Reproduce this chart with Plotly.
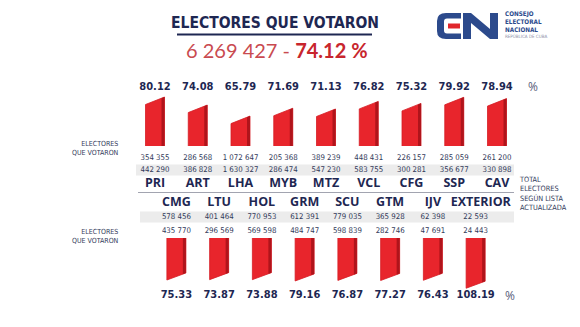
import plotly.graph_objects as go

# ---- data -------------------------------------------------------------
top_codes = ["PRI", "ART", "LHA", "MYB", "MTZ", "VCL", "CFG", "SSP", "CAV"]
top_pct = [80.12, 74.08, 65.79, 71.69, 71.13, 76.82, 75.32, 79.92, 78.94]
top_voted = [354355, 286568, 1072647, 205368, 389239, 448431, 226157, 285059, 261200]
top_total = [442290, 386828, 1630327, 286474, 547230, 583755, 300281, 356677, 330898]

bot_codes = ["CMG", "LTU", "HOL", "GRM", "SCU", "GTM", "IJV", "EXTERIOR"]
bot_pct = [75.33, 73.87, 73.88, 79.16, 76.87, 77.27, 76.43, 108.19]
bot_voted = [435770, 296569, 569598, 484747, 598839, 282746, 47691, 24443]
bot_total = [578456, 401464, 770953, 612391, 779035, 365928, 62398, 22593]

national_voted = 6269427
national_pct = 74.12

# ---- style ------------------------------------------------------------
W, H = 580, 327
NARROW = "DejaVu Sans Condensed, Liberation Sans Narrow, sans-serif"
SANS = "Open Sans, Liberation Sans, sans-serif"
NAVY = "#1e2752"
TEXT = "#333a5a"
RED = "#e8252c"
RED_DARK = "#b0141b"
BAND = "#ececec"

X0_PX, STEP_PX = 155, 42.75       # first column centre and column pitch (px)
HALF = 9.5 / STEP_PX              # bar half width, column units
STRIP = 3 / STEP_PX               # shaded right edge

TOP_BASE, TOP_SCALE, TOP_BASE_PX, TOP_CEIL_PX = 43.3, 1.33, 146, 75
BOT_BASE, BOT_SCALE, BOT_BASE_PX, BOT_FLOOR_PX = -92.7, 0.25, 238, 305
TOP_SLANT = 7.5 / TOP_SCALE
BOT_SLANT = 7 / BOT_SCALE


def fmt(n):
    return f"{n:,}".replace(",", " ")


def col_x(px):
    return (px - X0_PX) / STEP_PX


def col_px(c):
    return X0_PX + c * STEP_PX


def py(px):
    return 1 - px / H


fig = go.Figure()

# ---- top bars (upper provinces) --------------------------------------
for i, v in enumerate(top_pct):
    fig.add_trace(go.Scatter(
        x=[i - HALF, i - HALF, i + HALF, i + HALF],
        y=[TOP_BASE, v - TOP_SLANT, v, TOP_BASE],
        fill="toself", fillcolor=RED, mode="lines",
        line=dict(color="#d51d24", width=0.8),
        xaxis="x", yaxis="y", hoverinfo="skip", showlegend=False))
    fig.add_trace(go.Scatter(
        x=[i + HALF - STRIP, i + HALF - STRIP, i + HALF, i + HALF],
        y=[TOP_BASE, v - TOP_SLANT * STRIP / (2 * HALF), v, TOP_BASE],
        fill="toself", fillcolor=RED_DARK, mode="lines", line=dict(width=0),
        xaxis="x", yaxis="y", hoverinfo="skip", showlegend=False))

# ---- bottom bars (hanging) -------------------------------------------
bot_x = [i + 0.5 for i in range(len(bot_codes))]
for c, v in zip(bot_x, bot_pct):
    fig.add_trace(go.Scatter(
        x=[c - HALF, c - HALF, c + HALF, c + HALF],
        y=[BOT_BASE, v, v - BOT_SLANT, BOT_BASE],
        fill="toself", fillcolor=RED, mode="lines",
        line=dict(color="#d51d24", width=0.8),
        xaxis="x", yaxis="y2", hoverinfo="skip", showlegend=False))
    f = (2 * HALF - STRIP) / (2 * HALF)
    fig.add_trace(go.Scatter(
        x=[c + HALF - STRIP, c + HALF - STRIP, c + HALF, c + HALF],
        y=[BOT_BASE, v - BOT_SLANT * f, v - BOT_SLANT, BOT_BASE],
        fill="toself", fillcolor=RED_DARK, mode="lines", line=dict(width=0),
        xaxis="x", yaxis="y2", hoverinfo="skip", showlegend=False))


def text_row(xs, ypx, labels, family, size, color):
    fig.add_trace(go.Scatter(
        x=xs, y=[ypx] * len(xs), text=labels, mode="text",
        textposition="middle center",
        textfont=dict(family=family, size=size, color=color),
        xaxis="x", yaxis="y3", cliponaxis=False,
        hoverinfo="skip", showlegend=False))


top_x = list(range(len(top_codes)))
text_row(top_x, 87, [f"<b>{v:.2f}</b>" for v in top_pct], NARROW, 11, NAVY)
text_row(top_x, 158, [fmt(v) for v in top_voted], NARROW, 7.8, TEXT)
text_row(top_x, 170, [fmt(v) for v in top_total], NARROW, 7.8, TEXT)
text_row(top_x, 184, [f"<b>{c}</b>" for c in top_codes], SANS, 12.5, NAVY)

bot_label_x = bot_x[:-1] + [bot_x[-1] + 0.12]
text_row(bot_label_x, 203, [f"<b>{c}</b>" for c in bot_codes], SANS, 12.5, NAVY)
text_row(bot_x, 217, [fmt(v) for v in bot_total], NARROW, 7.8, TEXT)
text_row(bot_x, 231, [fmt(v) for v in bot_voted], NARROW, 7.8, TEXT)
text_row(bot_x, 295, [f"<b>{v:.2f}</b>" for v in bot_pct], NARROW, 11, NAVY)

# ---- shapes -----------------------------------------------------------
shapes = [
    dict(type="rect", xref="paper", yref="paper", x0=136 / W, x1=514 / W,
         y0=py(175.5), y1=py(164.5), fillcolor=BAND, line=dict(width=0), layer="below"),
    dict(type="rect", xref="paper", yref="paper", x0=140 / W, x1=514 / W,
         y0=py(222.5), y1=py(211.5), fillcolor=BAND, line=dict(width=0), layer="below"),
    dict(type="line", xref="paper", yref="paper", x0=138 / W, x1=514 / W,
         y0=py(192.5), y1=py(192.5), line=dict(color="#8a8d9c", width=0.8)),
    dict(type="line", xref="paper", yref="paper", x0=177 / W, x1=372 / W,
         y0=py(34.5), y1=py(34.5), line=dict(color=NAVY, width=2)),
]


def path(points):
    cmd = []
    for p in points:
        if isinstance(p, str):
            cmd.append(p)
        else:
            cmd.append(f"{p[0] / W:.5f},{py(p[1]):.5f}")
    return " ".join(cmd)


LOGO_BLUE = "#2c4a8c"
c_path = path(["M", (461, 13), "L", (446, 13), "Q", (437, 13), (437, 21), "L", (437, 31),
               "Q", (437, 39), (446, 39), "L", (461, 39), "L", (461, 33.5), "L", (447, 33.5),
               "Q", (444, 33.5), (444, 30.5), "L", (444, 21.5), "Q", (444, 18.5),
               (447, 18.5), "L", (461, 18.5), "Z"])
n_path = path(["M", (463, 39), "L", (463, 13), "L", (471, 13), "L", (490, 29), "L", (490, 13),
               "L", (498, 13), "L", (498, 39), "L", (490, 39), "L", (471, 23), "L", (471, 39), "Z"])
shapes += [
    dict(type="path", xref="paper", yref="paper", path=c_path,
         fillcolor=LOGO_BLUE, line=dict(width=0)),
    dict(type="path", xref="paper", yref="paper", path=n_path,
         fillcolor=LOGO_BLUE, line=dict(width=0)),
    dict(type="rect", xref="paper", yref="paper", x0=448 / W, x1=460 / W,
         y0=py(28.5), y1=py(23.5), fillcolor="#e0262c", line=dict(width=0)),
]

# ---- annotations ------------------------------------------------------
ann = []


def note(xpx, ypx, text, family, size, color, xanchor="center", align="center"):
    ann.append(dict(x=xpx / W, y=py(ypx), xref="paper", yref="paper", text=text,
                    showarrow=False, xanchor=xanchor, yanchor="middle", align=align,
                    font=dict(family=family, size=size, color=color)))


note(275, 23, "<b>ELECTORES QUE VOTARON</b>", NARROW, 15.5, NAVY)
note(277, 50, f"<span style='color:#c94a50'>{fmt(national_voted)} - </span>"
              f"<b><span style='color:#c8262d'>{national_pct:.2f} %</span></b>",
     "Lato, Open Sans, sans-serif", 20, "#c94a50")
note(121, 148, "ELECTORES<br>QUE VOTARON", NARROW, 7, TEXT, "right", "right")
note(121, 236, "ELECTORES<br>QUE VOTARON", NARROW, 7, TEXT, "right", "right")
note(517, 193, "TOTAL<br>ELECTORES<br>SEGÚN LISTA<br>ACTUALIZADA", NARROW, 7.3, TEXT,
     "left", "left")
note(col_px(8.85), 87, "%", SANS, 12, "#585d7a")
note(col_px(8.3), 295, "%", SANS, 12, "#585d7a")
note(503, 14.5, "<b>CONSEJO</b>", NARROW, 6.3, LOGO_BLUE, "left", "left")
note(503, 22, "<b>ELECTORAL</b>", NARROW, 6.3, LOGO_BLUE, "left", "left")
note(503, 29.5, "<b>NACIONAL</b>", NARROW, 6.3, LOGO_BLUE, "left", "left")
note(503, 36.5, "REPÚBLICA DE CUBA", NARROW, 4.5, "#8c90a8", "left", "left")

fig.update_layout(
    width=W, height=H, margin=dict(l=0, r=0, t=0, b=0),
    paper_bgcolor="white", plot_bgcolor="rgba(0,0,0,0)",
    showlegend=False, shapes=shapes, annotations=ann,
    xaxis=dict(range=[col_x(0), col_x(W)], domain=[0, 1], visible=False, fixedrange=True),
    yaxis=dict(range=[TOP_BASE, TOP_BASE + (TOP_BASE_PX - TOP_CEIL_PX) / TOP_SCALE],
               domain=[py(TOP_BASE_PX), py(TOP_CEIL_PX)], visible=False, anchor="x"),
    yaxis2=dict(range=[BOT_BASE + (BOT_FLOOR_PX - BOT_BASE_PX) / BOT_SCALE, BOT_BASE],
                domain=[py(BOT_FLOOR_PX), py(BOT_BASE_PX)], visible=False, anchor="x"),
    yaxis3=dict(range=[H, 0], domain=[0, 1], visible=False, anchor="x"),
)

fig.write_html("out.html")
